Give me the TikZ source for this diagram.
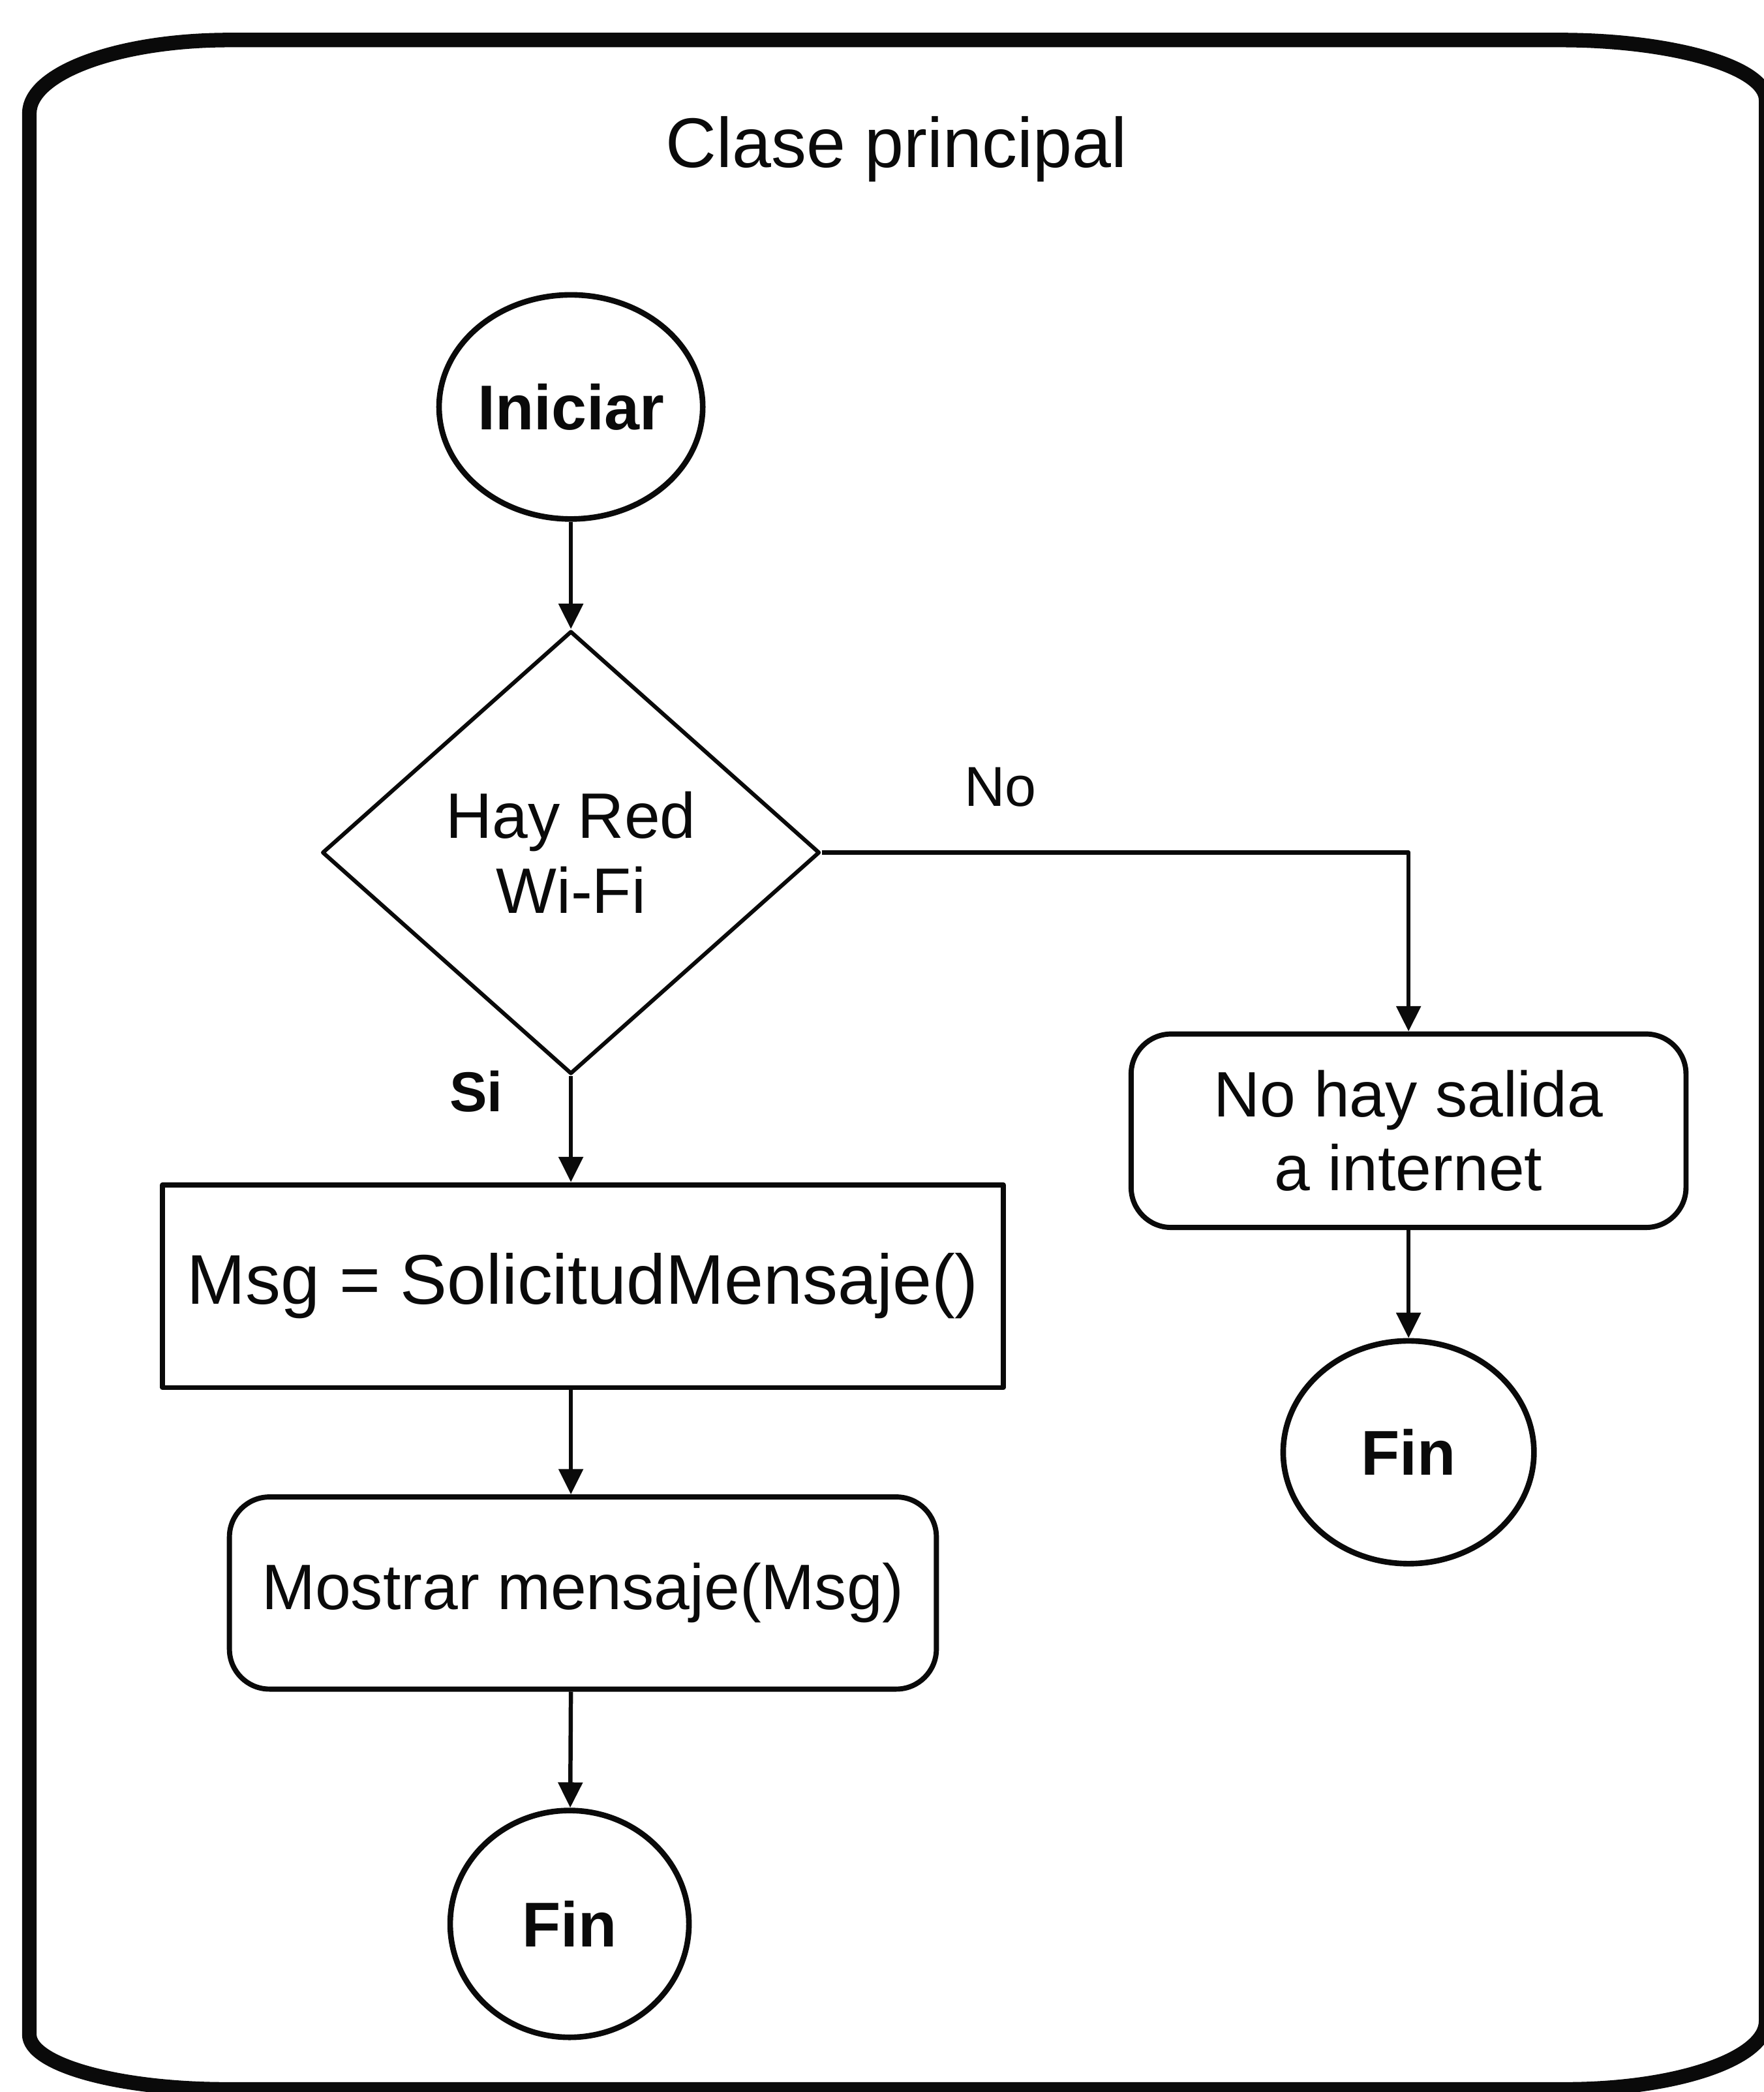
\documentclass[tikz,border=0pt]{standalone}
\usepackage{fontspec}
\setmainfont{Liberation Sans}
\usepackage{tikz}
\usetikzlibrary{arrows.meta,shapes.geometric}
\definecolor{fcInk}{HTML}{0A0A0A}
\tikzset{
  fc diagram/.style={font=\fontsize{13.7}{16}\selectfont, text=fcInk,
    line join=round},
  fc frame/.style={draw=fcInk, line width=3.1pt},
  fc terminal/.style={ellipse, draw=fcInk, line width=1.2pt, inner sep=0pt,
    font=\fontsize{13.5}{16}\selectfont\bfseries},
  fc decision/.style={diamond, draw=fcInk, line width=0.85pt, align=center,
    inner sep=0pt, minimum width=3.73cm, minimum height=3.32cm},
  fc process/.style={rectangle, draw=fcInk, line width=1.1pt, align=center,
    font=\fontsize{15}{18}\selectfont},
  fc action/.style={fc process, rounded corners=3mm,
    font=\fontsize{13.7}{15.8}\selectfont},
  fc arrow/.style={-{Triangle[length=1.9mm,width=1.8mm]}, draw=fcInk,
    line width=0.9pt},
  fc label/.style={font=\fontsize{12}{14}\selectfont, text=fcInk}
}

\begin{document}
\begin{tikzpicture}[fc diagram]
\useasboundingbox (0,0) rectangle (13.22,-15.68);
% outer frame of the class
\draw[fc frame] (0.22,-0.85) .. controls (0.22,-0.546) and (0.89,-0.30) .. (1.72,-0.30)
  -- (11.70,-0.30) .. controls (12.53,-0.30) and (13.24,-0.50) .. (13.24,-0.75)
  -- (13.24,-15.15) .. controls (13.24,-15.43) and (12.57,-15.66) .. (11.74,-15.66)
  -- (1.70,-15.66) .. controls (0.87,-15.66) and (0.22,-15.47) .. (0.22,-15.25)
  -- cycle;
\node[font=\fontsize{15}{18}\selectfont] (title) at (6.72,-1.12) {Clase principal};

% main branch
\node[fc terminal,minimum width=1.84cm,minimum height=1.68cm] (ini) at (4.28,-3.05) {Iniciar};
\node[fc decision] (wifi) at (4.28,-6.39) {Hay Red\\Wi-Fi};
\node[fc process,minimum width=6.30cm,minimum height=1.52cm] (msg) at (4.37,-9.64) {Msg = SolicitudMensaje()};
\node[fc action,minimum width=5.30cm,minimum height=1.44cm] (show) at (4.37,-11.94) {Mostrar mensaje(Msg)};
\node[fc terminal,minimum width=1.79cm,minimum height=1.70cm] (finA) at (4.27,-14.42) {Fin};

% no network branch
\node[fc action,minimum width=4.16cm,minimum height=1.45cm] (nonet) at (10.56,-8.475) {No hay salida\\a internet};
\node[fc terminal,minimum width=1.88cm,minimum height=1.67cm] (finB) at (10.56,-10.885) {Fin};

\node[fc label] (no) at (7.50,-5.90) {No};
\node[fc label,font=\fontsize{12}{14}\selectfont\bfseries] (si) at (3.57,-8.18) {Si};

\draw[fc arrow] (ini) -- (wifi);
\draw[fc arrow] (wifi.south) -- (wifi.south |- msg.north);
\draw[fc arrow] (msg.south -| wifi) -- (show.north -| wifi);
\draw[fc arrow] (show.south -| wifi) -- (finA);
\draw[fc arrow] (wifi.east) -| (nonet.north);
\draw[fc arrow] (nonet) -- (finB);
\end{tikzpicture}
\end{document}
